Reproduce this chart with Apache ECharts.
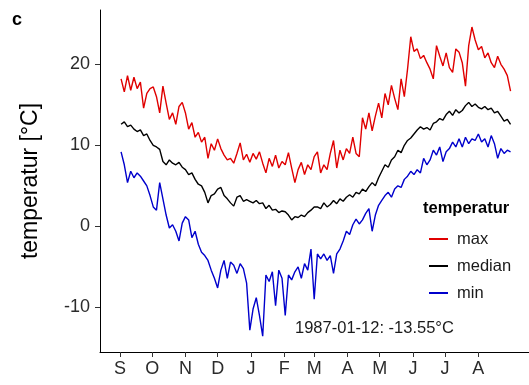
<!DOCTYPE html>
<html>
<head>
<meta charset="utf-8">
<script src="https://cdn.jsdelivr.net/npm/echarts@6/dist/echarts.min.js"></script>
<style>
html,body{margin:0;padding:0;background:#fff;}
#chart{width:529px;height:385px;}
</style>
</head>
<body>
<div id="chart"></div>
<script>
// Month tick labels (Sep..Aug) and their day offsets from 1 Sep 1986
const monthLabels = ['S','O','N','D','J','F','M','A','M','J','J','A'];
const monthStarts = [0,30,61,91,122,153,181,212,242,273,303,334];
const yTickValues = [-10,0,10,20];
const seriesNames = ['max','median','min'];
// sampled every 3 days starting at day 1 (2 Sep)
const firstDay = 1;
const dayStep = 3;

const maxT = [
 18.2,16.6,18.6,16.8,18.4,17.0,17.8,14.6,16.4,17.0,
 17.2,16.0,14.0,17.3,15.2,13.2,14.0,12.6,14.8,15.3,
 14.0,12.0,12.8,11.0,11.6,10.4,11.0,8.4,10.2,9.4,
 10.8,9.6,8.8,8.2,8.4,7.8,9.0,10.3,8.2,8.9,7.9,
 9.0,8.3,9.2,7.8,6.6,8.4,7.4,8.8,7.2,8.0,
 7.6,9.1,7.2,5.4,7.0,7.9,6.4,7.6,7.0,8.6,
 9.2,6.6,7.6,7.0,9.0,10.6,7.2,9.4,8.2,9.6,
 9.0,11.0,9.0,8.6,13.4,12.0,14.0,11.8,13.6,15.2,
 13.4,16.4,15.0,17.4,15.8,14.4,18.2,16.0,19.4,23.4,
 21.6,21.9,20.7,21.1,20.2,19.4,18.2,22.3,21.0,19.8,
 21.4,19.6,19.0,21.9,21.5,20.2,17.3,22.3,24.6,23.0,
 21.8,22.2,20.8,21.4,20.2,19.6,21.0,20.0,19.4,18.6,16.7
];
const medianT = [
 12.6,12.9,12.3,12.5,12.0,11.7,11.9,11.2,11.4,10.6,
 10.0,9.8,9.5,8.0,7.6,8.2,7.8,7.6,7.9,7.3,
 7.0,6.4,6.6,5.8,5.2,5.0,4.2,2.9,3.8,4.0,
 4.6,4.8,3.8,3.4,2.9,2.5,3.6,3.8,3.1,3.3,3.1,
 2.9,3.2,2.8,2.9,2.2,2.6,2.0,2.1,1.7,1.9,
 1.8,1.4,0.8,1.2,1.1,1.4,1.2,1.7,2.0,2.4,
 2.4,2.2,2.9,2.4,2.7,3.2,2.8,3.4,3.1,3.6,
 3.9,3.6,4.2,4.0,4.6,4.3,4.9,5.4,5.0,6.0,
 6.8,7.6,7.3,8.2,8.6,9.4,9.1,10.0,10.6,10.9,
 11.4,11.9,12.3,12.0,12.2,11.9,12.7,12.9,13.3,13.1,
 13.8,14.2,13.7,14.4,14.0,14.3,14.9,15.3,14.8,15.1,
 14.7,14.5,14.8,14.4,14.6,14.0,14.2,13.6,13.0,13.2,12.6
];
const minT = [
 9.2,7.6,5.4,6.8,6.0,6.6,6.2,5.6,5.0,3.8,
 2.4,2.0,5.4,3.4,1.4,-0.2,0.2,-0.6,-1.8,0.4,
 1.2,0.8,-1.4,-0.6,-2.2,-3.2,-3.6,-4.2,-5.4,-6.4,
 -7.6,-5.4,-4.2,-6.4,-4.4,-4.8,-5.8,-4.6,-5.2,-7.0,-12.8,
 -10.2,-8.8,-11.0,-13.55,-6.0,-6.8,-5.6,-9.8,-5.4,-6.4,
 -11.0,-6.0,-6.6,-5.6,-5.0,-6.4,-4.6,-5.4,-2.8,-9.0,
 -3.4,-4.0,-3.4,-4.2,-3.6,-5.8,-3.4,-2.8,-1.8,-0.6,
 -1.0,0.2,0.9,0.3,0.8,1.6,2.2,-0.6,1.4,2.6,
 3.2,3.8,4.2,3.6,4.6,5.0,4.8,5.8,6.2,6.8,
 6.4,7.0,6.6,8.4,7.6,8.2,9.4,8.8,9.8,8.0,
 9.2,9.6,10.4,9.8,10.8,9.8,11.0,10.2,10.8,10.6,
 11.4,10.4,10.8,9.8,11.2,10.2,8.4,9.6,9.0,9.4,9.2
];
const annotationText = '1987-01-12: -13.55°C';

const FONT = '"Liberation Sans", Arial, sans-serif';
const toPairs = arr => arr.map((v, i) => [firstDay + i * dayStep, v]);

const chart = echarts.init(document.getElementById('chart'), null, {renderer: 'canvas'});
chart.setOption({
  animation: false,
  backgroundColor: '#ffffff',
  textStyle: {fontFamily: FONT},
  grid: {left: 100, top: 10, right: 0, bottom: 33, containLabel: false},
  xAxis: {
    type: 'value',
    min: -18.64,
    max: 381.2,
    splitLine: {show: false},
    axisLine: {show: true, onZero: false, lineStyle: {color: '#000', width: 1}},
    axisTick: {show: true, length: 5, customValues: monthStarts, lineStyle: {color: '#333', width: 1}},
    axisLabel: {
      customValues: monthStarts, margin: 8, fontSize: 18, color: '#2b2b2b', fontFamily: FONT,
      formatter: v => monthLabels[monthStarts.indexOf(v)]
    }
  },
  yAxis: {
    type: 'value',
    min: -15.5,
    max: 26.7,
    splitLine: {show: false},
    axisLine: {show: true, onZero: false, lineStyle: {color: '#000', width: 1}},
    axisTick: {show: true, length: 5, customValues: yTickValues, lineStyle: {color: '#333', width: 1}},
    axisLabel: {customValues: yTickValues, margin: 10, fontSize: 18, color: '#2b2b2b', fontFamily: FONT},
    name: 'temperatur [°C]',
    nameLocation: 'middle',
    nameGap: 58,
    nameRotate: 90,
    nameTextStyle: {fontSize: 23, color: '#000', fontFamily: FONT}
  },
  legend: {
    data: seriesNames,
    orient: 'vertical',
    left: 424,
    top: 224,
    icon: 'rect',
    itemWidth: 19,
    itemHeight: 2,
    itemGap: 7,
    textStyle: {fontSize: 16.5, color: '#1a1a1a', lineHeight: 20, padding: [0, 0, 0, 4], fontFamily: FONT}
  },
  graphic: [
    {type: 'text', left: 12, top: 11, style: {text: 'c', font: 'bold 18px ' + FONT, fill: '#000'}},
    {type: 'text', left: 423, top: 200, style: {text: 'temperatur', font: 'bold 16.5px ' + FONT, fill: '#000'}},
    {type: 'text', left: 295, top: 320, style: {text: annotationText, font: '16.5px ' + FONT, fill: '#1a1a1a'}}
  ],
  series: [
    {name: seriesNames[0], type: 'line', data: toPairs(maxT), showSymbol: false, symbol: 'none',
     color: '#e00000', lineStyle: {width: 1.4, color: '#e00000'}, itemStyle: {color: '#e00000'}},
    {name: seriesNames[1], type: 'line', data: toPairs(medianT), showSymbol: false, symbol: 'none',
     color: '#000000', lineStyle: {width: 1.4, color: '#000000'}, itemStyle: {color: '#000000'}},
    {name: seriesNames[2], type: 'line', data: toPairs(minT), showSymbol: false, symbol: 'none',
     color: '#0000cc', lineStyle: {width: 1.4, color: '#0000cc'}, itemStyle: {color: '#0000cc'}}
  ]
});
</script>
</body>
</html>
